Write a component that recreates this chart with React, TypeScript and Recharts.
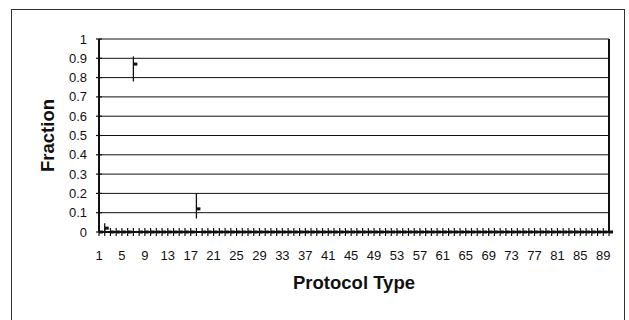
import React from 'react'
import { ComposedChart, Line, XAxis, YAxis, CartesianGrid, ErrorBar } from 'recharts'

const protocols = [
    1, 2, 3, 4, 5, 6, 7, 8, 9, 10, 11, 12, 13, 14, 15, 16, 17, 18, 19, 20,
    21, 22, 23, 24, 25, 26, 27, 28, 29, 30, 31, 32, 33, 34, 35, 36, 37, 38, 39, 40,
    41, 42, 43, 44, 45, 46, 47, 48, 49, 50, 51, 52, 53, 54, 55, 56, 57, 58, 59, 60,
    61, 62, 63, 64, 65, 66, 67, 68, 69, 70, 71, 72, 73, 74, 75, 76, 77, 78, 79, 80,
    81, 82, 83, 84, 85, 86, 87, 88, 89, 90,
]

// mean fraction per protocol type
const fraction = [
    0, 0.02, 0, 0, 0, 0, 0.87, 0, 0, 0, 0, 0, 0, 0, 0, 0, 0, 0.12, 0, 0,
    0, 0, 0, 0, 0, 0, 0, 0, 0, 0, 0, 0, 0, 0, 0, 0, 0, 0, 0, 0,
    0, 0, 0, 0, 0, 0, 0, 0, 0, 0, 0, 0, 0, 0, 0, 0, 0, 0, 0, 0,
    0, 0, 0, 0, 0, 0, 0, 0, 0, 0, 0, 0, 0, 0, 0, 0, 0, 0, 0, 0,
    0, 0, 0, 0, 0, 0, 0, 0, 0, 0,
]

// error range below / above the mean
const errLow = [
    0, 0.02, 0, 0, 0, 0, 0.09, 0, 0, 0, 0, 0, 0, 0, 0, 0, 0, 0.05, 0, 0,
    0, 0, 0, 0, 0, 0, 0, 0, 0, 0, 0, 0, 0, 0, 0, 0, 0, 0, 0, 0,
    0, 0, 0, 0, 0, 0, 0, 0, 0, 0, 0, 0, 0, 0, 0, 0, 0, 0, 0, 0,
    0, 0, 0, 0, 0, 0, 0, 0, 0, 0, 0, 0, 0, 0, 0, 0, 0, 0, 0, 0,
    0, 0, 0, 0, 0, 0, 0, 0, 0, 0,
]
const errHigh = [
    0, 0.025, 0, 0, 0, 0, 0.04, 0, 0, 0, 0, 0, 0, 0, 0, 0, 0, 0.08, 0, 0,
    0, 0, 0, 0, 0, 0, 0, 0, 0, 0, 0, 0, 0, 0, 0, 0, 0, 0, 0, 0,
    0, 0, 0, 0, 0, 0, 0, 0, 0, 0, 0, 0, 0, 0, 0, 0, 0, 0, 0, 0,
    0, 0, 0, 0, 0, 0, 0, 0, 0, 0, 0, 0, 0, 0, 0, 0, 0, 0, 0, 0,
    0, 0, 0, 0, 0, 0, 0, 0, 0, 0,
]

const yTicks = [0, 0.1, 0.2, 0.3, 0.4, 0.5, 0.6, 0.7, 0.8, 0.9, 1]

const data = protocols.map((p, i) => ({
    protocol: p,
    fraction: fraction[i],
    err: [errLow[i], errHigh[i]],
}))

const FONT = 'Arial, "Liberation Sans", sans-serif'

const XTick = (props: any) => {
    const { x, y, payload, index } = props
    return (
        <g>
            <line x1={x} x2={x} y1={y - 4} y2={y + 4} stroke="#111" strokeWidth={1.2} />
            {index % 4 === 0 && (
                <text x={x} y={y + 28} textAnchor="middle" fontSize={13} fill="#111" fontFamily={FONT}>
                    {payload.value}
                </text>
            )}
        </g>
    )
}

const YTick = (props: any) => {
    const { x, y, payload } = props
    return (
        <g>
            <line x1={x + 7} x2={x + 13} y1={y} y2={y} stroke="#111" strokeWidth={1.2} />
            <text x={x - 2} y={y + 4.5} textAnchor="end" fontSize={13} fill="#111" fontFamily={FONT}>
                {payload.value}
            </text>
        </g>
    )
}

const Dash = (props: any) => {
    const { cx, cy, index } = props
    if (cx == null || cy == null) return <g key={index} />
    return <rect key={index} x={cx} y={cy - 1.5} width={4} height={3} fill="#111" />
}

export default function App() {
    return (
        <div style={{ position: 'absolute', left: 0, top: 0, width: 629, height: 320, background: '#fff', overflow: 'hidden' }}>
            <div style={{ position: 'absolute', left: 11, top: 9, width: 614, height: 330, border: '1.5px solid #333', boxSizing: 'border-box' }} />
            <div style={{ position: 'absolute', left: 0, top: 0 }}>
                <ComposedChart width={629} height={320} data={data} margin={{ top: 39, right: 19, bottom: 58, left: 51 }}>
                    <CartesianGrid vertical={false} stroke="#111" strokeWidth={1} strokeOpacity={1} />
                    <XAxis
                        dataKey="protocol"
                        interval={0}
                        tickSize={0}
                        tickMargin={0}
                        tickLine={false}
                        axisLine={{ stroke: '#111', strokeWidth: 2 }}
                        tick={XTick}
                        height={30}
                        label={{ value: 'Protocol Type', position: 'insideBottom', offset: -27, fontSize: 18.5, fontWeight: 'bold', fill: '#111', fontFamily: FONT }}
                    />
                    <YAxis
                        domain={[0, 1]}
                        ticks={yTicks}
                        interval={0}
                        width={48}
                        tickSize={0}
                        tickMargin={10}
                        tickLine={false}
                        axisLine={{ stroke: '#111', strokeWidth: 2 }}
                        tick={YTick}
                        label={{ value: 'Fraction', angle: -90, position: 'insideLeft', offset: -4, fontSize: 18.5, fontWeight: 'bold', fill: '#111', fontFamily: FONT, style: { textAnchor: 'middle' } }}
                    />
                    <YAxis yAxisId="right" orientation="right" domain={[0, 1]} width={1} tick={false} tickLine={false} axisLine={{ stroke: '#111', strokeWidth: 2 }} />
                    <Line
                        dataKey="fraction"
                        stroke="none"
                        isAnimationActive={false}
                        dot={Dash}
                        activeDot={false}
                    >
                        <ErrorBar dataKey="err" direction="y" width={0} stroke="#111" strokeWidth={1.3} />
                    </Line>
                </ComposedChart>
            </div>
        </div>
    )
}
